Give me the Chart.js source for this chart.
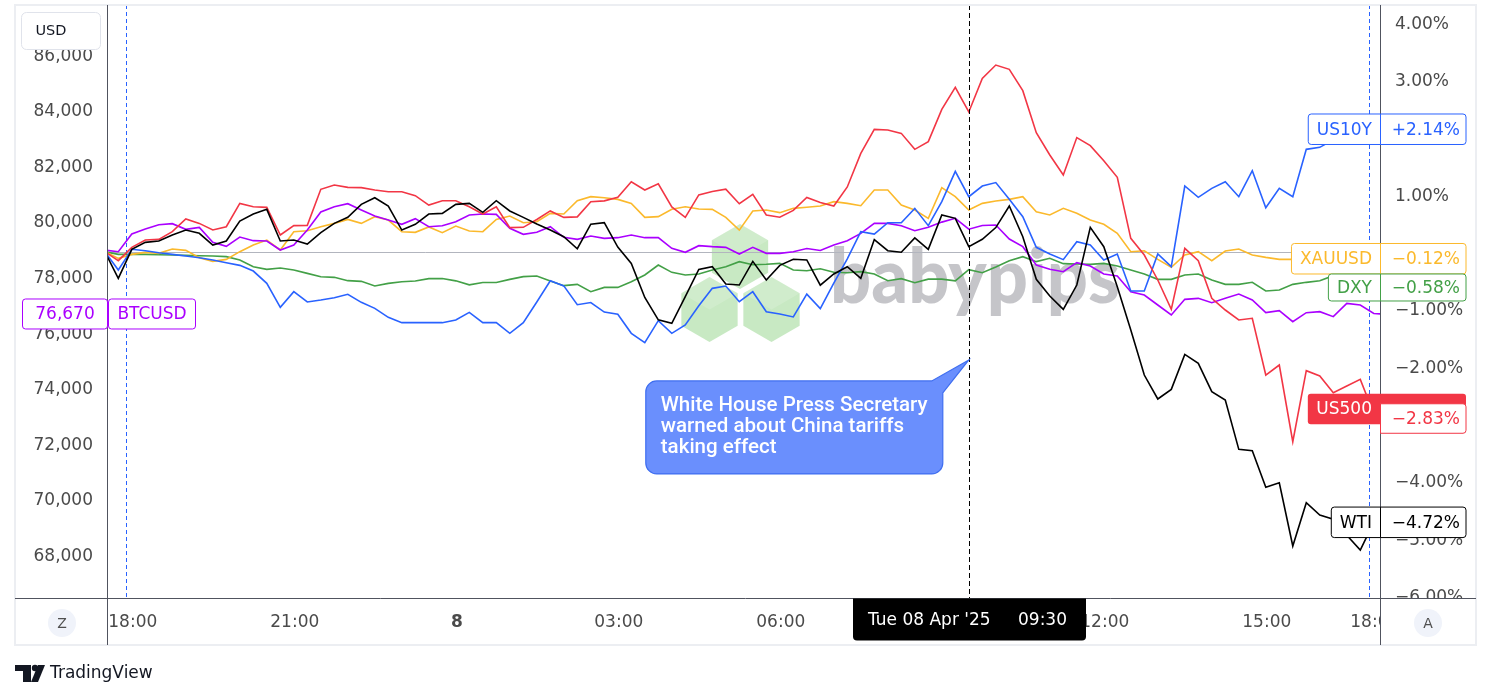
<!DOCTYPE html>
<html><head><meta charset="utf-8">
<script src="https://cdn.jsdelivr.net/npm/chart.js@4.4.1/dist/chart.umd.min.js"></script>
<style>html,body{margin:0;padding:0;background:#fff;overflow:hidden}canvas{display:block}</style>
</head><body><canvas id="c" width="1491" height="700"></canvas>
<script>
// ---- data: one value per 15-minute bar (bar index 0..94) ----
const timeTickIdx    = [2, 14, 26, 38, 50, 62, 74, 86, 94];
const timeTickLabels = ['18:00','21:00','8','03:00','06:00','09:00','12:00','15:00','18:00'];
const btcTicks = [68000,70000,72000,74000,76000,78000,80000,82000,84000,86000];
const pctTicks = [-6,-5,-4,-3,-2,-1,0,1,2,3,4];
const sessionBreaks = [1.57, 93.65];
const crossIdx = 64;                 // Tue 08 Apr '25 09:30
const crossDate = "Tue 08 Apr '25";
const crossTime = '09:30';
const noteLines = ['White House Press Secretary','warned about China tariffs','taking effect'];
const noteAnchorPct = -1.89;

// BTCUSD price (left scale)
const btcusd = [
 78950,78896,79532,79712,79868,79904,79700,79772,79232,79088,
 79424,79292,79280,78956,79136,79676,80324,80516,80624,80396,
 80180,80036,79880,80084,79796,79832,79976,80216,80252,80240,
 79736,79520,79592,79796,79412,79340,79460,79376,79400,79496,
 79400,79400,79016,78872,79112,79076,79052,78812,79052,78836,
 78836,78896,79010,78940,79136,79292,79556,79916,79916,79832,
 79650,79772,79960,80096,79706,79838,79856,79352,79076,78416,
 78260,78176,78500,78380,78092,78020,77456,77336,76976,76616,
 77180,77216,77060,77216,77372,77156,76700,76772,76376,76700,
 76736,76556,77036,76976,76670,76640];
// percent change series (right scale)
const us500 = [
 0,-0.158,0.074,0.202,0.214,0.348,0.569,0.493,0.377,0.435,
 0.842,0.784,0.773,0.290,0.453,0.458,1.087,1.162,1.122,1.116,
 1.075,1.046,1.046,0.976,0.813,0.889,0.889,0.784,0.656,0.784,
 0.418,0.424,0.56,0.71,0.598,0.607,0.871,0.886,0.95,1.22,
 1.075,1.183,0.78,0.598,0.99,1.05,1.09,0.836,1.0,0.639,
 0.60,0.72,0.945,0.857,0.796,1.128,1.715,2.134,2.123,2.064,
 1.785,1.919,2.483,2.867,2.437,3.024,3.256,3.181,2.809,2.076,
 1.686,1.337,1.99,1.85,1.585,1.296,0.232,-0.059,-0.495,-1.007,
 0.057,-0.158,-0.815,-1.019,-1.193,-1.164,-2.154,-1.979,-3.317,-2.078,
 -2.171,-2.462,-2.346,-2.229,-2.83];
const wti = [
 0,-0.467,0.040,0.162,0.185,0.290,0.377,0.319,0.115,0.185,
 0.534,0.656,0.738,0.185,0.202,0.133,0.330,0.493,0.598,0.825,
 0.941,0.796,0.377,0.476,0.656,0.668,0.825,0.842,0.685,0.889,
 0.709,0.598,0.482,0.377,0.26,0.05,0.478,0.505,0.08,-0.205,
 -0.80,-1.19,-1.25,-0.785,-0.31,-0.263,-0.566,-0.583,-0.17,-0.496,
 -0.24,-0.134,-0.146,-0.585,-0.39,-0.264,-0.466,0.21,0.016,-0.01,
 0.24,0.04,0.639,0.581,0.086,0.215,0.42,0.796,0.26,-0.483,
 -0.774,-1.007,-0.583,0.424,0.086,-0.612,-1.368,-2.154,-2.572,-2.404,
 -1.793,-1.950,-2.444,-2.590,-3.451,-3.474,-4.114,-4.033,-5.137,-4.381,
 -4.597,-4.67,-4.95,-5.21,-4.72];
const us10y = [
 0,-0.321,0.040,0.016,-0.019,-0.048,-0.077,-0.106,-0.147,-0.193,
 -0.240,-0.339,-0.554,-0.973,-0.699,-0.879,-0.845,-0.804,-0.745,-0.885,
 -0.990,-1.147,-1.240,-1.240,-1.240,-1.240,-1.194,-1.060,-1.240,-1.240,
 -1.426,-1.240,-0.88,-0.51,-0.598,-0.926,-0.888,-1.055,-1.092,-1.426,
 -1.589,-1.205,-1.426,-1.281,-0.945,-0.641,-0.600,-0.874,-0.70,-1.048,
 -1.089,-1.14,-0.743,-0.995,-0.55,-0.125,0.348,0.307,0.505,0.505,
 0.755,0.453,0.872,1.40,0.959,1.145,1.205,0.912,0.610,0.075,
 -0.041,-0.14,0.173,0.115,-0.147,-0.042,-0.688,-0.688,-0.042,-0.263,
 1.145,0.947,1.104,1.220,0.959,1.413,0.767,1.104,0.959,1.785,
 1.820,1.95,2.05,2.10,2.14];
const xauusd = [
 0,-0.118,-0.048,-0.013,-0.030,0.045,0.022,-0.106,-0.170,-0.135,
 -0.001,0.115,0.202,0.028,0.348,0.365,0.435,0.493,0.563,0.493,
 0.610,0.551,0.348,0.336,0.43,0.330,0.447,0.360,0.348,0.563,
 0.621,0.505,0.522,0.668,0.656,0.889,0.959,0.941,0.912,0.842,
 0.598,0.610,0.738,0.784,0.743,0.738,0.598,0.375,0.71,0.726,
 0.680,0.755,0.773,0.796,0.872,0.842,0.802,1.075,1.075,0.814,
 0.726,0.581,1.116,0.959,0.726,0.842,0.883,0.912,0.959,0.697,
 0.639,0.755,0.668,0.551,0.476,0.319,-0.001,0.016,-0.135,-0.273,
 -0.059,-0.001,-0.158,0.010,0.045,-0.059,-0.100,-0.135,-0.135,-0.13,
 -0.12,-0.125,-0.12,-0.12,-0.12];
const dxy = [
 0,-0.048,-0.048,-0.048,-0.054,-0.059,-0.065,-0.071,-0.077,-0.088,
 -0.147,-0.263,-0.310,-0.286,-0.321,-0.380,-0.438,-0.449,-0.507,-0.519,
 -0.600,-0.554,-0.525,-0.513,-0.472,-0.47,-0.51,-0.58,-0.54,-0.54,
 -0.484,-0.437,-0.426,-0.513,-0.594,-0.571,-0.699,-0.624,-0.624,-0.525,
 -0.408,-0.234,-0.362,-0.408,-0.391,-0.321,-0.263,-0.176,-0.228,-0.22,
 -0.205,-0.321,-0.333,-0.30,-0.36,-0.368,-0.35,-0.391,-0.507,-0.472,
 -0.542,-0.48,-0.48,-0.51,-0.315,-0.368,-0.27,-0.158,-0.088,-0.175,
 -0.117,-0.21,-0.216,-0.222,-0.205,-0.252,-0.321,-0.391,-0.484,-0.484,
 -0.408,-0.391,-0.496,-0.571,-0.571,-0.536,-0.688,-0.670,-0.571,-0.536,
 -0.507,-0.42,-0.50,-0.56,-0.58];

// ---- styling ----
const FONT = '"DejaVu Sans", sans-serif';
const TXT = '#4a4a4a';
const C = {btc:'#aa00ff', us500:'#f23645', us10y:'#2962ff', xau:'#fbb92c', dxy:'#43a047', wti:'#000000'};
const MINUS = '\u2212';
const pts = vals => vals.map((v,i)=>({x:i, y:v}));
const pctFmt = (v, sign) => (v < 0 ? MINUS : (sign && v > 0 ? '+' : '')) + Math.abs(v).toFixed(2) + '%';

function rrect(c,x,y,w,h,r){
  const rr = Array.isArray(r) ? r : [r,r,r,r];
  c.beginPath();
  c.moveTo(x+rr[0],y); c.lineTo(x+w-rr[1],y); c.arcTo(x+w,y,x+w,y+rr[1],rr[1]);
  c.lineTo(x+w,y+h-rr[2]); c.arcTo(x+w,y+h,x+w-rr[2],y+h,rr[2]);
  c.lineTo(x+rr[3],y+h); c.arcTo(x,y+h,x,y+h-rr[3],rr[3]);
  c.lineTo(x,y+rr[0]); c.arcTo(x,y,x+rr[0],y,rr[0]); c.closePath();
}
function hexPath(c,cx,cy,r){
  c.beginPath();
  for(let k=0;k<6;k++){const a=(-90+60*k)*Math.PI/180; const px=cx+r*Math.cos(a), py=cy+r*Math.sin(a); k?c.lineTo(px,py):c.moveTo(px,py);}
  c.closePath();
}

const tvPlugin = {
  id:'tv',
  beforeDraw(chart){
    const c=chart.ctx; c.save(); c.fillStyle='#fff'; c.fillRect(0,0,chart.width,chart.height); c.restore();
  },
  beforeDatasetsDraw(chart){
    const c=chart.ctx, a=chart.chartArea, xs=chart.scales.x, yR=chart.scales.yR;
    c.save();
    c.beginPath(); c.rect(a.left,a.top,a.right-a.left,a.bottom-a.top); c.clip();
    // babypips watermark
    const hexes=[[740,256.5],[709.5,309.5],[771.5,309.5]], r=32.5;
    hexes.forEach(([hx,hy])=>{
      hexPath(c,hx,hy,r); c.fillStyle='rgba(140,210,130,0.48)'; c.fill();
      c.beginPath(); c.moveTo(hx,hy-r); c.lineTo(hx+r*0.866,hy-r/2); c.lineTo(hx,hy); c.lineTo(hx-r*0.866,hy-r/2); c.closePath();
      c.fillStyle='rgba(255,255,255,0.16)'; c.fill();
    });
    c.font='900 76px Lato, "Liberation Sans", sans-serif';
    const w=c.measureText('babypips').width;
    c.save(); c.translate(830,303); c.scale(290/w,1);
    c.fillStyle='rgba(150,150,156,0.55)'; c.textBaseline='alphabetic'; c.textAlign='left';
    c.fillText('babypips',0,0); c.restore();
    // zero line
    const y0=Math.round(yR.getPixelForValue(0))+0.5;
    c.strokeStyle='#b2b5be'; c.lineWidth=1; c.beginPath(); c.moveTo(a.left,y0); c.lineTo(a.right,y0); c.stroke();
    // session breaks
    c.strokeStyle='#2962ff'; c.setLineDash([4,3]);
    sessionBreaks.forEach(v=>{const x=Math.round(xs.getPixelForValue(v))+0.5; c.beginPath(); c.moveTo(x,a.top); c.lineTo(x,a.bottom); c.stroke();});
    c.restore();
  },
  afterDraw(chart){
    const c=chart.ctx, a=chart.chartArea, xs=chart.scales.x, yR=chart.scales.yR, yL=chart.scales.yL;
    const L=15,R=1476,T=5,B=645;
    c.save();
    // crosshair
    const cx=Math.round(xs.getPixelForValue(crossIdx))+0.5;
    c.strokeStyle='#000'; c.lineWidth=1; c.setLineDash([5,3]);
    c.beginPath(); c.moveTo(cx,a.top); c.lineTo(cx,a.bottom); c.stroke(); c.setLineDash([]);
    // clip corners of time axis
    c.fillStyle='#fff';
    c.fillRect(a.right+1,a.bottom+1,R-a.right-2,B-a.bottom-2);
    c.fillRect(L+1,a.bottom+1,a.left-L-2,B-a.bottom-2);
    // frame
    c.strokeStyle='#eceef2'; c.lineWidth=2; c.strokeRect(L,T,R-L,B-T);
    // axis lines
    c.strokeStyle='#50535e'; c.lineWidth=1;
    c.beginPath(); c.moveTo(a.left+0.5,T); c.lineTo(a.left+0.5,B); c.stroke();
    c.beginPath(); c.moveTo(a.right+0.5,T); c.lineTo(a.right+0.5,B); c.stroke();
    c.beginPath(); c.moveTo(L,a.bottom+0.5); c.lineTo(R,a.bottom+0.5); c.stroke();
    // Z / A buttons
    [[62,'Z'],[1428,'A']].forEach(([bx,t])=>{
      c.beginPath(); c.arc(bx,623,14,0,Math.PI*2); c.fillStyle='#f0f3fa'; c.fill();
      c.fillStyle='#4f4f4f'; c.font='14px '+FONT; c.textAlign='center'; c.textBaseline='middle'; c.fillText(t,bx,624);
    });
    // crosshair time label
    c.fillStyle='#000'; rrect(c,cx-116.5,a.bottom+0.5,233,42,[0,0,4,4]); c.fill();
    c.fillStyle='#fff'; c.font='17px '+FONT; c.textAlign='left'; c.textBaseline='middle';
    c.fillText(crossDate,cx-101.5,621); c.fillText(crossTime,cx+48.5,621);
    // note bubble
    const tipX=xs.getPixelForValue(crossIdx), tipY=yR.getPixelForValue(noteAnchorPct);
    const bx=tipX-323, by=tipY+21, bw=297, bh=93, br=11;
    c.beginPath();
    c.moveTo(bx+br,by); c.lineTo(bx+bw-11,by); c.lineTo(tipX,tipY); c.lineTo(bx+bw,by+12);
    c.lineTo(bx+bw,by+bh-br); c.arcTo(bx+bw,by+bh,bx+bw-br,by+bh,br);
    c.lineTo(bx+br,by+bh); c.arcTo(bx,by+bh,bx,by+bh-br,br);
    c.lineTo(bx,by+br); c.arcTo(bx,by,bx+br,by,br); c.closePath();
    c.fillStyle='#6a8ffd'; c.fill(); c.strokeStyle='#3f6ef0'; c.lineWidth=1.2; c.stroke();
    c.font='500 20px Roboto, sans-serif';
    const fs=20*267/c.measureText(noteLines[0]).width;
    c.font='500 '+fs.toFixed(2)+'px Roboto, sans-serif';
    c.fillStyle='#fff'; c.textAlign='left'; c.textBaseline='alphabetic';
    noteLines.forEach((s,i)=>c.fillText(s,bx+15,by+30+i*21));
    // right-side series labels
    c.font='17px '+FONT;
    const labels=[
      {name:'US10Y',vals:us10y,color:C.us10y},
      {name:'XAUUSD',vals:xauusd,color:C.xau},
      {name:'DXY',vals:dxy,color:C.dxy},
      {name:'US500',vals:us500,color:C.us500,filled:true},
      {name:'WTI',vals:wti,color:C.wti}
    ];
    let prevBottom=-1e9;
    labels.forEach(lb=>{
      const v=lb.vals[lb.vals.length-1];
      let top=yR.getPixelForValue(v)-15.5;
      if(top<prevBottom) top=prevBottom;
      const h=(lb.name==='DXY')?27:30.5;
      prevBottom=top+h;
      const nw=c.measureText(lb.name).width+17;
      const vx=a.right+0.5, vw=R-10-vx;
      let ntop=top;
      if(lb.filled){
        ntop=top-5;
        c.fillStyle=lb.color; rrect(c,vx-nw,ntop+0.5,nw+vw,h,3); c.fill();
        c.fillStyle='#fff'; c.strokeStyle=lb.color; c.lineWidth=1;
        rrect(c,vx,top+5.5,vw,h-1,[0,3,3,0]); c.fill(); c.stroke();
        c.fillStyle='#fff'; c.textAlign='center'; c.textBaseline='middle';
        c.fillText(lb.name,vx-nw/2,ntop+h/2+1);
        c.fillStyle=lb.color; c.textAlign='right';
        c.fillText(pctFmt(v,true),R-16,top+5+h/2+1);
      } else {
        c.fillStyle='#fff'; c.strokeStyle=lb.color; c.lineWidth=1;
        rrect(c,vx-nw,top+0.5,nw,h,[3,0,0,3]); c.fill(); c.stroke();
        rrect(c,vx,top+0.5,vw,h,[0,3,3,0]); c.fill(); c.stroke();
        c.fillStyle=lb.color; c.textAlign='center'; c.textBaseline='middle';
        c.fillText(lb.name,vx-nw/2,top+h/2+1.5);
        c.textAlign='right';
        c.fillText(pctFmt(v,true),R-16,top+h/2+1.5);
      }
    });
    // BTC label on the left
    const bv=btcusd[94], byc=yL.getPixelForValue(bv);
    c.fillStyle='#fff'; c.strokeStyle=C.btc; c.lineWidth=1;
    rrect(c,22.5,byc-14.5,85,30,3); c.fill(); c.stroke();
    rrect(c,108.5,byc-14.5,87,30,3); c.fill(); c.stroke();
    c.fillStyle=C.btc; c.textAlign='center'; c.textBaseline='middle';
    c.fillText(bv.toLocaleString('en-US'),65,byc+1.5);
    c.fillText('BTCUSD',152,byc+1.5);
    // USD box
    c.fillStyle='#fff'; c.strokeStyle='#e0e3eb'; rrect(c,21.5,12.5,79,37,5); c.fill(); c.stroke();
    c.fillStyle='#131722'; c.font='14.5px '+FONT; c.fillText('USD',51,31);
    // TradingView logo
    c.fillStyle='#131722';
    c.fillRect(15,665,16,6); c.fillRect(23,665,8,17);
    c.beginPath(); c.arc(35,668,3.2,0,Math.PI*2); c.fill();
    c.beginPath(); c.moveTo(38,665); c.lineTo(45,665); c.lineTo(38,682); c.lineTo(31,682); c.closePath(); c.fill();
    c.font='17px '+FONT; c.textAlign='left'; c.textBaseline='middle'; c.fillText('TradingView',50,674);
    c.restore();
  }
};

const ds = (label,vals,color,axis)=>({label,data:pts(vals),borderColor:color,backgroundColor:color,yAxisID:axis,borderWidth:1.6,pointRadius:0,tension:0,fill:false});

new Chart(document.getElementById('c'), {
  type:'line',
  data:{datasets:[
    ds('WTI',wti,C.wti,'yR'),
    ds('US500',us500,C.us500,'yR'),
    ds('US10Y',us10y,C.us10y,'yR'),
    ds('BTCUSD',btcusd,C.btc,'yL'),
    ds('XAUUSD',xauusd,C.xau,'yR'),
    ds('DXY',dxy,C.dxy,'yR')
  ]},
  options:{
    responsive:false, animation:false, devicePixelRatio:1,
    layout:{padding:{left:15,right:15,top:5,bottom:55}},
    plugins:{legend:{display:false}, tooltip:{enabled:false}},
    scales:{
      x:{type:'linear', min:0.163, max:94.46,
        grid:{display:false,drawTicks:false}, border:{display:false},
        afterBuildTicks:s=>{s.ticks=timeTickIdx.map(v=>({value:v}));},
        afterFit:s=>{s.height=47; s.paddingLeft=0; s.paddingRight=0;},
        ticks:{autoSkip:false,maxRotation:0,padding:14,color:TXT,labelOffset:1,
          font:ctx=>({family:FONT,size:17,weight:(ctx.tick&&ctx.tick.value===26)?'bold':'normal'}),
          callback:(v,i)=>timeTickLabels[i]}
      },
      yL:{type:'linear', position:'left', min:66427, max:87777,
        grid:{display:false,drawTicks:false}, border:{display:false},
        afterBuildTicks:s=>{s.ticks=btcTicks.map(v=>({value:v}));},
        afterFit:s=>{s.width=92; s.paddingTop=0; s.paddingBottom=0;},
        ticks:{autoSkip:false,padding:14,labelOffset:2,color:TXT,font:{family:FONT,size:17},
          callback:v=>Number(v).toLocaleString('en-US')}
      },
      yR:{type:'linear', position:'right', min:-6.045, max:4.304,
        grid:{display:false,drawTicks:false}, border:{display:false},
        afterBuildTicks:s=>{s.ticks=pctTicks.map(v=>({value:v}));},
        afterFit:s=>{s.width=96; s.paddingTop=0; s.paddingBottom=0;},
        ticks:{autoSkip:false,padding:15,labelOffset:2,color:TXT,font:{family:FONT,size:17},
          callback:v=>pctFmt(v,false)}
      }
    }
  },
  plugins:[tvPlugin]
});
</script>
</body></html>
